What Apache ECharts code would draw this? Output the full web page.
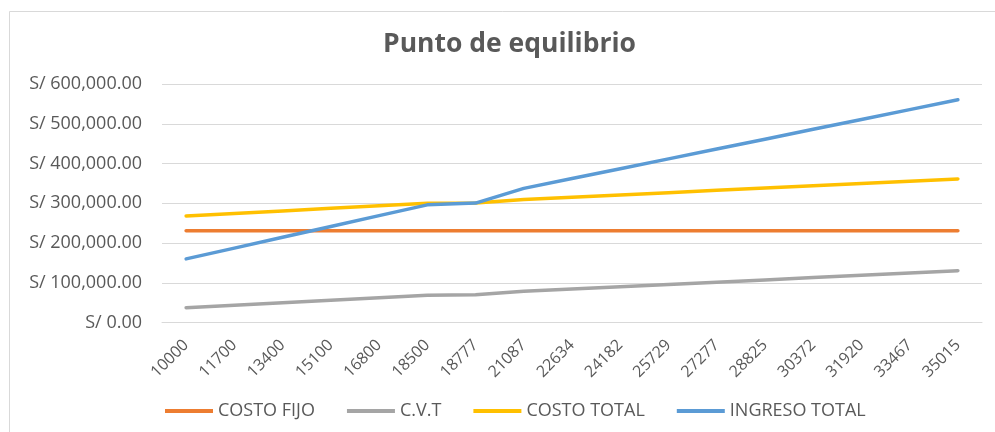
<!DOCTYPE html>
<html>
<head>
<meta charset="utf-8">
<script src="https://cdn.jsdelivr.net/npm/echarts@6/dist/echarts.min.js"></script>
<style>
  html, body { margin: 0; padding: 0; background: #fff; }
  #chart { width: 995px; height: 432px; }
</style>
</head>
<body>
<div id="chart"></div>
<script>
// Units sold (category axis)
const cantidades = ['10000', '11700', '13400', '15100', '16800', '18500', '18777', '21087', '22634',
  '24182', '25729', '27277', '28825', '30372', '31920', '33467', '35015'];

// Fixed cost
const costoFijo = [231000, 231000, 231000, 231000, 231000, 231000, 231000, 231000, 231000,
  231000, 231000, 231000, 231000, 231000, 231000, 231000, 231000];

// Total variable cost
const cvt = [37200, 43500, 49800, 56200, 62500, 68800, 69900, 78400, 84200,
  90000, 95700, 101500, 107200, 113000, 118700, 124500, 130300];

// Total cost
const costoTotal = [268200, 274500, 280800, 287200, 293500, 299800, 300900, 309400, 315200,
  321000, 326700, 332500, 338200, 344000, 349700, 355500, 361300];

// Total revenue
const ingresoTotal = [160000, 187200, 214400, 241600, 268800, 296000, 300400, 337400, 362100,
  386900, 411700, 436400, 461200, 486000, 510700, 535500, 560200];

const yTicks = [0, 100000, 200000, 300000, 400000, 500000, 600000];

const FONT = 'Open Sans';
const TEXT = '#595959';

function fmtSoles(v) {
  return 'S/ ' + Number(v).toLocaleString('en-US', { minimumFractionDigits: 2, maximumFractionDigits: 2 });
}

const chart = echarts.init(document.getElementById('chart'), null, { renderer: 'canvas' });

function lineSeries(name, data, color) {
  return {
    name: name,
    type: 'line',
    data: data,
    symbol: 'none',
    smooth: false,
    lineStyle: { color: color, width: 3.5, cap: 'round', join: 'round' },
    itemStyle: { color: color },
    emphasis: { disabled: true }
  };
}

chart.setOption({
  animation: false,
  backgroundColor: '#ffffff',
  title: {
    text: 'Punto de equilibrio',
    left: 378,
    top: 26,
    textStyle: { fontFamily: FONT, fontSize: 26.5, fontWeight: 'bold', color: TEXT }
  },
  graphic: [{
    type: 'rect',
    silent: true,
    shape: { x: 9.5, y: 11.5, width: 1000, height: 500 },
    style: { fill: 'none', stroke: '#d9d9d9', lineWidth: 1 }
  }],
  legend: {
    bottom: 7,
    left: 160,
    itemWidth: 48,
    itemHeight: 4,
    itemGap: 32,
    icon: 'rect',
    textStyle: { fontFamily: FONT, fontSize: 18, color: TEXT },
    data: ['COSTO FIJO', 'C.V.T', 'COSTO TOTAL', 'INGRESO TOTAL']
  },
  grid: { left: 162, right: 13, top: 84, bottom: 109.5, containLabel: false },
  xAxis: {
    type: 'category',
    data: cantidades,
    boundaryGap: true,
    axisLine: { show: true, lineStyle: { color: '#d9d9d9' } },
    axisTick: { show: false },
    axisLabel: {
      rotate: 45,
      interval: 0,
      margin: 20,
      fontFamily: FONT,
      fontSize: 16,
      color: TEXT
    }
  },
  yAxis: {
    type: 'value',
    min: yTicks[0],
    max: yTicks[yTicks.length - 1],
    interval: 100000,
    axisLine: { show: false },
    axisTick: { show: false },
    splitLine: { lineStyle: { color: '#d9d9d9', width: 1 } },
    axisLabel: {
      formatter: fmtSoles,
      margin: 20,
      fontFamily: FONT,
      fontSize: 18,
      color: TEXT
    }
  },
  series: [
    lineSeries('COSTO FIJO', costoFijo, '#ed7d31'),
    lineSeries('C.V.T', cvt, '#a5a5a5'),
    lineSeries('COSTO TOTAL', costoTotal, '#ffc000'),
    lineSeries('INGRESO TOTAL', ingresoTotal, '#5b9bd5')
  ]
});
</script>
</body>
</html>
